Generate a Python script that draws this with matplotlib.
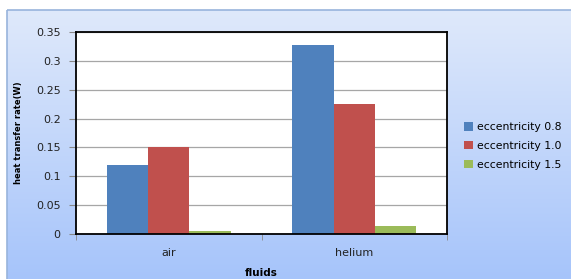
import numpy as np
import matplotlib
matplotlib.use('Agg')
import matplotlib.pyplot as plt
from matplotlib.patches import Rectangle

# data
fluids = ['air', 'helium']
series = ['eccentricity 0.8', 'eccentricity 1.0', 'eccentricity 1.5']
ecc_08 = [0.12, 0.327]
ecc_10 = [0.15, 0.226]
ecc_15 = [0.006, 0.014]
colors = ['#4f81bd', '#c0504d', '#9bbb59']

fig = plt.figure(figsize=(5.71, 2.79), dpi=100)

# gradient background panel with a thin border (Excel chart area)
bg = fig.add_axes([0, 0, 1, 1], zorder=0)
bg.set_xlim(0, 571)
bg.set_ylim(279, 0)
bg.axis('off')
grad = np.linspace(0, 1, 256).reshape(-1, 1)
top = np.array([0.875, 0.914, 0.984])
bot = np.array([0.651, 0.769, 0.984])
img = top + (bot - top) * grad[..., None]
bg.imshow(img, extent=[7, 571, 279, 10], aspect='auto')
bg.add_patch(Rectangle((7, 10), 570, 275, fill=False, edgecolor='#98b4dc', lw=1.2))

ax = fig.add_axes([76 / 571, 1 - 234 / 279, 371 / 571, 202 / 279], zorder=1)
ax.set_facecolor('white')

x = np.arange(len(fluids))
w = 1 / 4.5
for i, (vals, name) in enumerate(zip([ecc_08, ecc_10, ecc_15], series)):
    ax.bar(x + (i - 1) * w, vals, width=w, color=colors[i], label=name, zorder=2)

ax.set_xlim(-0.5, 1.5)
ax.set_ylim(0, 0.35)
ax.set_yticks(np.arange(0, 0.351, 0.05))
ax.set_yticklabels(['0', '0.05', '0.1', '0.15', '0.2', '0.25', '0.3', '0.35'])
ax.set_xticks(x)
ax.set_xticklabels(fluids)
ax.set_xticks([-0.5, 0.5, 1.5], minor=True)
ax.tick_params(axis='x', which='major', length=0, pad=10, labelsize=8, colors='#222222')
ax.tick_params(axis='x', which='minor', length=4, color='#888888')
ax.tick_params(axis='y', length=5, color='#888888', labelsize=8, colors='#222222', pad=6)
ax.yaxis.grid(True, color='#a6a6a6', lw=0.9, zorder=0)
ax.set_axisbelow(True)
for s in ax.spines.values():
    s.set_color('black')
    s.set_linewidth(1.3)

ax.set_ylabel('heat transfer rate(W)', fontsize=6, fontweight='bold',
              family='Liberation Sans Narrow', labelpad=9)
ax.set_xlabel('fluids', fontsize=7.5, fontweight='bold', labelpad=7)

fig.legend(loc='center left', bbox_to_anchor=(459 / 571, 1 - 146 / 279),
           frameon=False, fontsize=7.8, handlelength=0.8, handleheight=0.8,
           handletextpad=0.4, labelspacing=0.8, borderpad=0)

fig.savefig('out.png', dpi=100)
